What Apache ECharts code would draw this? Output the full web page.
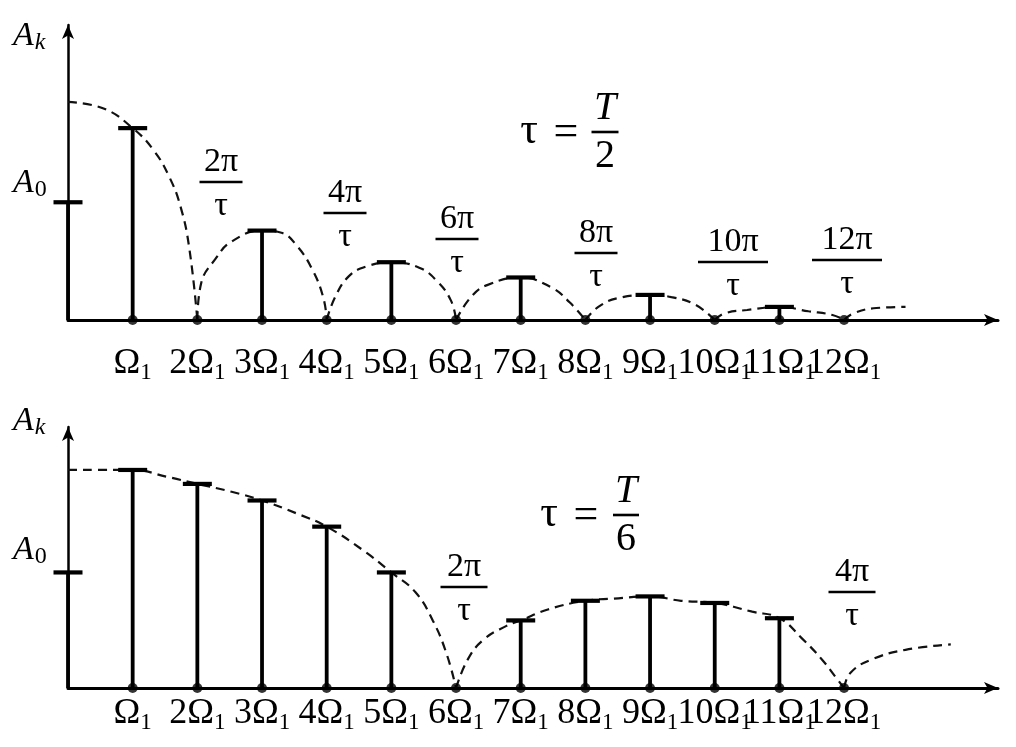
<!DOCTYPE html>
<html>
<head>
<meta charset="utf-8">
<script src="https://cdn.jsdelivr.net/npm/echarts@6/dist/echarts.min.js"></script>
<style>
  html, body { margin: 0; padding: 0; background: #fff; }
  #chart { width: 1016px; height: 747px; }
</style>
</head>
<body>
<div id="chart"></div>
<script>
// Harmonic numbers k (line at kΩ1) and the multiplier shown in front of Ω1
const harmonics = [1, 2, 3, 4, 5, 6, 7, 8, 9, 10, 11, 12];
const tickMultipliers = ['', '2', '3', '4', '5', '6', '7', '8', '9', '10', '11', '12'];

// Spectrum for τ = T/2 (amplitudes relative to the envelope maximum)
const topA0 = 0.54;
const topAmplitudes = [0.88, 0, 0.41, 0, 0.265, 0, 0.195, 0, 0.115, 0, 0.06, 0];
const topEnvelope = [
  [[0, 1.0], [0.55, 0.97], [1, 0.88], [1.32, 0.78], [1.56, 0.66], [1.74, 0.52], [1.875, 0.33], [2, 0]],
  [[2, 0], [2.06, 0.17], [2.28, 0.28], [2.53, 0.36], [3, 0.41], [3.3, 0.40], [3.54, 0.34], [3.78, 0.23], [3.95, 0.1], [4, 0]],
  [[4, 0], [4.13, 0.105], [4.34, 0.2], [4.61, 0.245], [5, 0.265], [5.43, 0.24], [5.7, 0.18], [5.92, 0.09], [6, 0]],
  [[6, 0], [6.23, 0.105], [6.48, 0.16], [7, 0.195], [7.47, 0.15], [7.76, 0.08], [8, 0]],
  [[8, 0], [8.2, 0.06], [8.5, 0.1], [9, 0.115], [9.33, 0.105], [9.7, 0.07], [10, 0]],
  [[10, 0], [10.15, 0.03], [10.5, 0.046], [11, 0.06], [11.45, 0.04], [11.82, 0.023], [12, 0]],
  [[12, 0], [12.14, 0.03], [12.5, 0.055], [12.95, 0.06]]
];
const topZeroLabels = ['2π', '4π', '6π', '8π', '10π', '12π'];

// Spectrum for τ = T/6
const bottomA0 = 0.53;
const bottomAmplitudes = [1.0, 0.936, 0.86, 0.74, 0.53, 0, 0.31, 0.40, 0.42, 0.39, 0.32, 0];
const bottomEnvelope = [
  [[0, 1.0], [0.7, 1.0], [1, 1.0], [1.54, 0.968], [2, 0.936], [2.53, 0.90], [3, 0.86], [3.54, 0.80], [4, 0.74],
   [4.57, 0.63], [5, 0.53], [5.37, 0.44], [5.64, 0.31], [5.85, 0.16], [6, 0]],
  [[6, 0], [6.18, 0.13], [6.42, 0.22], [6.78, 0.285], [7, 0.31], [7.42, 0.36], [8, 0.40], [8.44, 0.41], [9, 0.42],
   [9.48, 0.40], [10, 0.39], [10.58, 0.35], [11, 0.32], [11.34, 0.23], [11.66, 0.13], [11.87, 0.05], [12, 0]],
  [[12, 0], [12.1, 0.07], [12.42, 0.13], [12.95, 0.175], [13.65, 0.2]]
];
const bottomZeroLabels = ['2π', '4π'];

const SERIF = '"Liberation Serif", "DejaVu Serif", serif';
const INK = '#000';

// ---- series helpers ----
function stemSeries(idx, points) {
  return {
    type: 'custom',
    xAxisIndex: idx, yAxisIndex: idx,
    data: points,
    z: 5,
    renderItem: function (params, api) {
      const v = api.value(1);
      if (!(v > 0)) return null;
      const base = api.coord([api.value(0), 0]);
      const top = api.coord([api.value(0), v]);
      return {
        type: 'group',
        children: [
          { type: 'line', shape: { x1: base[0], y1: base[1], x2: top[0], y2: top[1] },
            style: { stroke: INK, lineWidth: 3.8 } },
          { type: 'line', shape: { x1: top[0] - 14.5, y1: top[1], x2: top[0] + 14.5, y2: top[1] },
            style: { stroke: INK, lineWidth: 4.2 } }
        ]
      };
    }
  };
}

function dotSeries(idx) {
  return {
    type: 'scatter',
    xAxisIndex: idx, yAxisIndex: idx,
    data: harmonics.map(k => [k, 0]),
    symbol: 'circle', symbolSize: 10,
    itemStyle: { color: INK },
    z: 6, silent: true
  };
}

function envelopeSeries(idx, lobes) {
  return lobes.map(lobe => ({
    type: 'line',
    xAxisIndex: idx, yAxisIndex: idx,
    data: lobe,
    smooth: 0.45,
    showSymbol: false,
    lineStyle: { color: '#111', width: 2.2, type: [9, 6] },
    z: 4, silent: true
  }));
}

function xAxisFor(idx, margin) {
  return {
    type: 'value', gridIndex: idx,
    min: 0, max: 14.38, interval: 1,
    axisLine: { show: true, lineStyle: { color: INK, width: 3 },
                symbol: ['none', 'arrow'], symbolSize: [9, 14] },
    axisTick: { show: false },
    splitLine: { show: false },
    axisLabel: {
      margin: margin,
      showMinLabel: true, showMaxLabel: false,
      formatter: function (v) {
        const i = harmonics.indexOf(v);
        if (i < 0) return '';
        const m = tickMultipliers[i];
        return (m ? '{n|' + m + '}' : '') + '{o|Ω}{s|1}';
      },
      rich: {
        n: { fontFamily: SERIF, fontSize: 36, lineHeight: 36, verticalAlign: 'top', color: INK },
        o: { fontFamily: SERIF, fontSize: 36, lineHeight: 36, verticalAlign: 'top', color: INK },
        s: { fontFamily: SERIF, fontSize: 23, verticalAlign: 'top', padding: [15, 0, 0, 0], color: INK }
      }
    }
  };
}

function yAxisFor(idx, max) {
  return {
    type: 'value', gridIndex: idx,
    min: 0, max: max,
    axisLine: { show: true, lineStyle: { color: INK, width: 2.5 },
                symbol: ['none', 'arrow'], symbolSize: [9, 14] },
    axisTick: { show: false },
    axisLabel: { show: false },
    splitLine: { show: false }
  };
}

// ---- annotation helpers ----
function textEl(x, y, text, size, extra) {
  return {
    type: 'text', x: x, y: y, silent: true,
    style: Object.assign({
      text: text, fontFamily: SERIF, fontSize: size, fill: INK,
      align: 'center', verticalAlign: 'middle'
    }, extra || {})
  };
}

function fraction(cx, barY, num, den, size, len, numItalic, denShift) {
  return [
    textEl(cx, barY - size * 0.6, num, size, numItalic ? { fontStyle: 'italic' } : null),
    { type: 'line', silent: true,
      shape: { x1: cx - len / 2, y1: barY, x2: cx + len / 2, y2: barY },
      style: { stroke: INK, lineWidth: 2.6 } },
    textEl(cx, barY + size * denShift, den, size)
  ];
}

function ampLabel(x, y, sub) {
  return {
    type: 'text', x: x, y: y, silent: true,
    style: {
      text: '{a|A}{s|' + sub + '}',
      rich: {
        a: { fontFamily: SERIF, fontSize: 34, fontStyle: 'italic', lineHeight: 32,
             verticalAlign: 'top', fill: INK, color: INK },
        s: { fontFamily: SERIF, fontSize: 24, fontStyle: sub === 'k' ? 'italic' : 'normal',
             verticalAlign: 'top', padding: [12, 0, 0, 1], fill: INK, color: INK }
      }
    }
  };
}

const topFractionPos = [[221, 182], [345, 213], [457, 239], [596, 253], [733, 262], [847, 260]];
const bottomFractionPos = [[464, 587], [852, 592]];

const graphics = [];
topZeroLabels.forEach((t, i) => {
  graphics.push(...fraction(topFractionPos[i][0], topFractionPos[i][1], t, 'τ', 34, t.length > 2 ? 70 : 43, false, 0.72));
});
bottomZeroLabels.forEach((t, i) => {
  graphics.push(...fraction(bottomFractionPos[i][0], bottomFractionPos[i][1], t, 'τ', 34, 47, false, 0.72));
});
// τ = T/2 and τ = T/6
graphics.push(textEl(529, 131, 'τ', 44));
graphics.push(textEl(566, 133, '=', 44));
graphics.push(...fraction(605, 132, 'T', '2', 40, 27, true, 0.62));
graphics.push(textEl(549, 514, 'τ', 44));
graphics.push(textEl(586, 516, '=', 44));
graphics.push(...fraction(626, 515, 'T', '6', 40, 26, true, 0.62));
// axis titles
graphics.push(ampLabel(13, 19, 'k'));
graphics.push(ampLabel(13, 166, '0'));
graphics.push(ampLabel(13, 404, 'k'));
graphics.push(ampLabel(13, 533, '0'));

const chart = echarts.init(document.getElementById('chart'), null, { renderer: 'canvas' });
chart.setOption({
  animation: false,
  backgroundColor: '#fff',
  grid: [
    { left: 68, top: 25, width: 930, height: 295 },
    { left: 68, top: 427, width: 930, height: 261 }
  ],
  xAxis: [xAxisFor(0, 26), xAxisFor(1, 8)],
  yAxis: [yAxisFor(0, 1.353), yAxisFor(1, 1.197)],
  series: [
    ...envelopeSeries(0, topEnvelope),
    ...envelopeSeries(1, bottomEnvelope),
    stemSeries(0, [[0, topA0]].concat(harmonics.map((k, i) => [k, topAmplitudes[i]]))),
    stemSeries(1, [[0, bottomA0]].concat(harmonics.map((k, i) => [k, bottomAmplitudes[i]]))),
    dotSeries(0),
    dotSeries(1)
  ],
  graphic: graphics
});
</script>
</body>
</html>
